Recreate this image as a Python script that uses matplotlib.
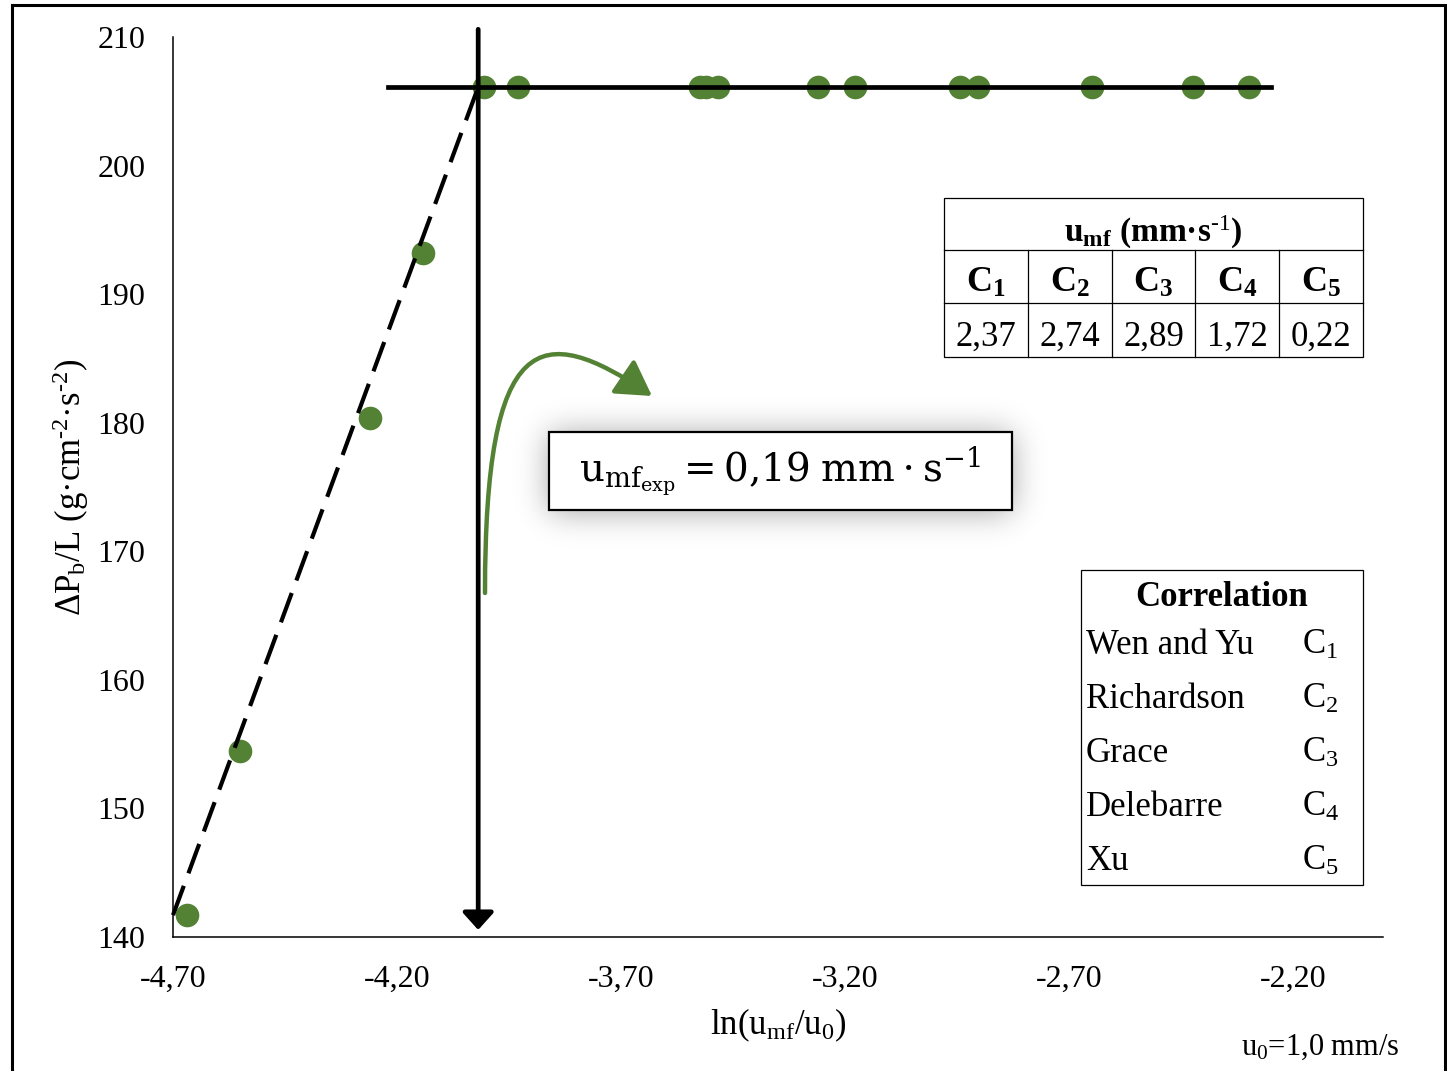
import numpy as np
import matplotlib
matplotlib.use("Agg")
import matplotlib.pyplot as plt
from matplotlib.patches import Rectangle, FancyArrowPatch
from matplotlib.path import Path
from matplotlib.lines import Line2D

plt.rcParams["font.family"] = ["Liberation Serif", "DejaVu Serif"]
plt.rcParams["mathtext.fontset"] = "custom"
plt.rcParams["mathtext.rm"] = "Liberation Serif"
plt.rcParams["mathtext.it"] = "Liberation Serif:italic"
plt.rcParams["mathtext.bf"] = "Liberation Serif:bold"

# ---- data ----------------------------------------------------------------
# packed-bed (rising) region
x_rise = [-4.669, -4.550, -4.260, -4.142]
y_rise = [141.7, 154.5, 180.4, 193.2]
# fluidised (plateau) region
x_plateau = [-4.006, -3.930, -3.524, -3.510, -3.483, -3.260, -3.178,
             -2.943, -2.903, -2.649, -2.425, -2.300]
y_plateau = [206.1] * len(x_plateau)

# fitted lines
x_fit_rise = [-4.70, -4.019]
y_fit_rise = [141.7, 206.1]
x_fit_plateau = [-4.22, -2.25]
y_fit_plateau = [206.1, 206.1]
x_umf = -4.019

x_ticks = [-4.70, -4.20, -3.70, -3.20, -2.70, -2.20]
x_ticklabels = ["-4,70", "-4,20", "-3,70", "-3,20", "-2,70", "-2,20"]
y_ticks = [140, 150, 160, 170, 180, 190, 200, 210]

corr_codes = [r"C$_{1}$", r"C$_{2}$", r"C$_{3}$", r"C$_{4}$", r"C$_{5}$"]
corr_codes_bold = [r"$\mathbf{C}_{\mathbf{%d}}$" % i for i in range(1, 6)]
corr_values = ["2,37", "2,74", "2,89", "1,72", "0,22"]
corr_names = ["Wen and Yu", "Richardson", "Grace", "Delebarre", "Xu"]

GREEN = "#548235"

# ---- figure --------------------------------------------------------------
W, H = 1447, 1071
fig = plt.figure(figsize=(W / 100, H / 100), dpi=100)


def fx(px):
    return px / W


def fy(py):
    return 1 - py / H


ax = fig.add_axes([fx(173), fy(937), (1383 - 173) / W, 900 / H])
ax.set_xlim(-4.70, -2.00)
ax.set_ylim(140, 210)
ax.set_xticks(x_ticks)
ax.set_xticklabels(x_ticklabels)
ax.set_yticks(y_ticks)
ax.tick_params(axis="both", length=0, labelsize=23)
ax.tick_params(axis="y", pad=20)
ax.tick_params(axis="x", pad=20)
for s in ["top", "right"]:
    ax.spines[s].set_visible(False)
for s in ["left", "bottom"]:
    ax.spines[s].set_linewidth(1.1)
    ax.spines[s].set_color("black")

ax.plot(x_fit_rise, y_fit_rise, color="black", lw=3.0, ls=(0, (7.5, 3.2)),
        zorder=3, clip_on=False)
ax.plot(x_fit_plateau, y_fit_plateau, color="black", lw=3.4, zorder=3,
        clip_on=False)
ax.annotate("", xy=(x_umf, 140.55), xytext=(x_umf, 210.6),
            arrowprops=dict(arrowstyle="-|>,head_length=0.3,head_width=0.27",
                            lw=3.4, color="black", mutation_scale=35,
                            shrinkA=0, shrinkB=0),
            annotation_clip=False, zorder=3)

ax.scatter(x_rise, y_rise, s=17 ** 2, color=GREEN, zorder=2, clip_on=False,
           linewidths=0)
ax.scatter(x_plateau, y_plateau, s=17 ** 2, color=GREEN, zorder=2,
           clip_on=False, linewidths=0)

ax.set_xlabel(r"ln(u$_{\mathrm{mf}}$/u$_{0}$)", fontsize=25)
ax.xaxis.label.set_va("baseline")
ax.xaxis.set_label_coords(0.5, -(1034 - 937) / 900)
fig.text(fx(71), fy(487),
         r"ΔP$_{\mathrm{b}}$/L (g·cm$^{\text{-2}}$·s$^{\text{-2}}$)",
         rotation=90, ha="center", va="center", fontsize=25)

fig.text(fx(1400), fy(1055), r"u$_{0}$=1,0 mm/s", ha="right",
         va="baseline", fontsize=22)

# ---- outer frame ---------------------------------------------------------
fig.add_artist(Rectangle((fx(12), fy(1090)), fx(1445) - fx(12),
                         fy(5) - fy(1090), transform=fig.transFigure,
                         fill=False, lw=2.2, ec="black", clip_on=False))

# ---- soft shadow behind the result box ------------------------------------
bx0, by0, bx1, by1 = 549, 432, 1012, 510
m = 70
sw, sh = (bx1 - bx0) + 2 * m, (by1 - by0) + 2 * m
mask = np.zeros((sh, sw))
mask[m + 2:m + 2 + (by1 - by0), m:m + (bx1 - bx0)] = 1.0
sig = 16.0
k = np.exp(-0.5 * (np.arange(-50, 51) / sig) ** 2)
k /= k.sum()
blur = np.apply_along_axis(lambda r: np.convolve(r, k, mode="same"), 1, mask)
blur = np.apply_along_axis(lambda c: np.convolve(c, k, mode="same"), 0, blur)
rgba = np.zeros((sh, sw, 4))
rgba[..., 3] = 0.36 * blur
sax = fig.add_axes([fx(bx0 - m), fy(by1 + m), sw / W, sh / H], zorder=5)
sax.imshow(rgba, extent=(0, 1, 0, 1), aspect="auto", interpolation="bilinear")
sax.axis("off")

# overlay layer for annotations
oax = fig.add_axes([0, 0, 1, 1], zorder=6)
oax.set_xlim(0, 1)
oax.set_ylim(0, 1)
oax.axis("off")

oax.add_patch(Rectangle((fx(bx0), fy(by1)), fx(bx1) - fx(bx0),
                        fy(by0) - fy(by1), fc="white", ec="black", lw=1.6))
oax.text(fx(780), fy(481),
         r"$\mathrm{u}_{\mathrm{mf}_{\mathrm{exp}}} = 0{,}19\;\mathrm{mm}\cdot\mathrm{s}^{-1}$",
         ha="center", va="baseline", fontsize=28, math_fontfamily="dejavuserif")

# curved green pointer
pts = [(485, 593), (485, 330), (540, 320), (652, 396)]
verts = [(fx(a), fy(b)) for a, b in pts]
path = Path(verts, [Path.MOVETO, Path.CURVE4, Path.CURVE4, Path.CURVE4])
oax.add_patch(FancyArrowPatch(path=path,
                              arrowstyle="-|>,head_length=0.85,head_width=0.5",
                              mutation_scale=25, lw=3.2, color=GREEN))

# ---- u_mf table -----------------------------------------------------------
tx0, tx1 = 944, 1363
ty0, ty1, ty2, ty3 = 198, 250, 303, 357
lw_t = 0.9
oax.add_patch(Rectangle((fx(tx0), fy(ty3)), fx(tx1) - fx(tx0),
                        fy(ty0) - fy(ty3), fill=False, ec="black", lw=lw_t))
for yy in (ty1, ty2):
    oax.add_line(Line2D([fx(tx0), fx(tx1)], [fy(yy), fy(yy)], color="black",
                        lw=lw_t))
colw = (tx1 - tx0) / 5
for i in range(1, 5):
    xx = tx0 + i * colw
    oax.add_line(Line2D([fx(xx), fx(xx)], [fy(ty1), fy(ty3)], color="black",
                        lw=lw_t))
oax.text(fx((tx0 + tx1) / 2), fy(242),
         r"$\mathbf{u}_{\mathbf{mf}}$ (mm·s$^{\text{-1}}$)",
         ha="center", va="baseline", fontsize=24, fontweight="bold")
for i in range(5):
    cx = tx0 + (i + 0.5) * colw
    oax.text(fx(cx), fy(292), corr_codes_bold[i], ha="center", va="baseline",
             fontsize=26, fontweight="bold")
    oax.text(fx(cx), fy(346), corr_values[i], ha="center", va="baseline",
             fontsize=25)

# ---- correlation key --------------------------------------------------------
kx0, kx1, ky0, ky1 = 1081, 1363, 570, 885
oax.add_patch(Rectangle((fx(kx0), fy(ky1)), fx(kx1) - fx(kx0),
                        fy(ky0) - fy(ky1), fill=False, ec="black", lw=lw_t))
oax.text(fx((kx0 + kx1) / 2), fy(606), "Correlation", ha="center",
         va="baseline", fontsize=25, fontweight="bold")
for i in range(5):
    yb = 654 + i * 54
    oax.text(fx(1086), fy(yb), corr_names[i], ha="left", va="baseline",
             fontsize=25)
    oax.text(fx(1302), fy(yb), corr_codes[i], ha="left", va="baseline",
             fontsize=25)

fig.savefig("out.png", dpi=100)
